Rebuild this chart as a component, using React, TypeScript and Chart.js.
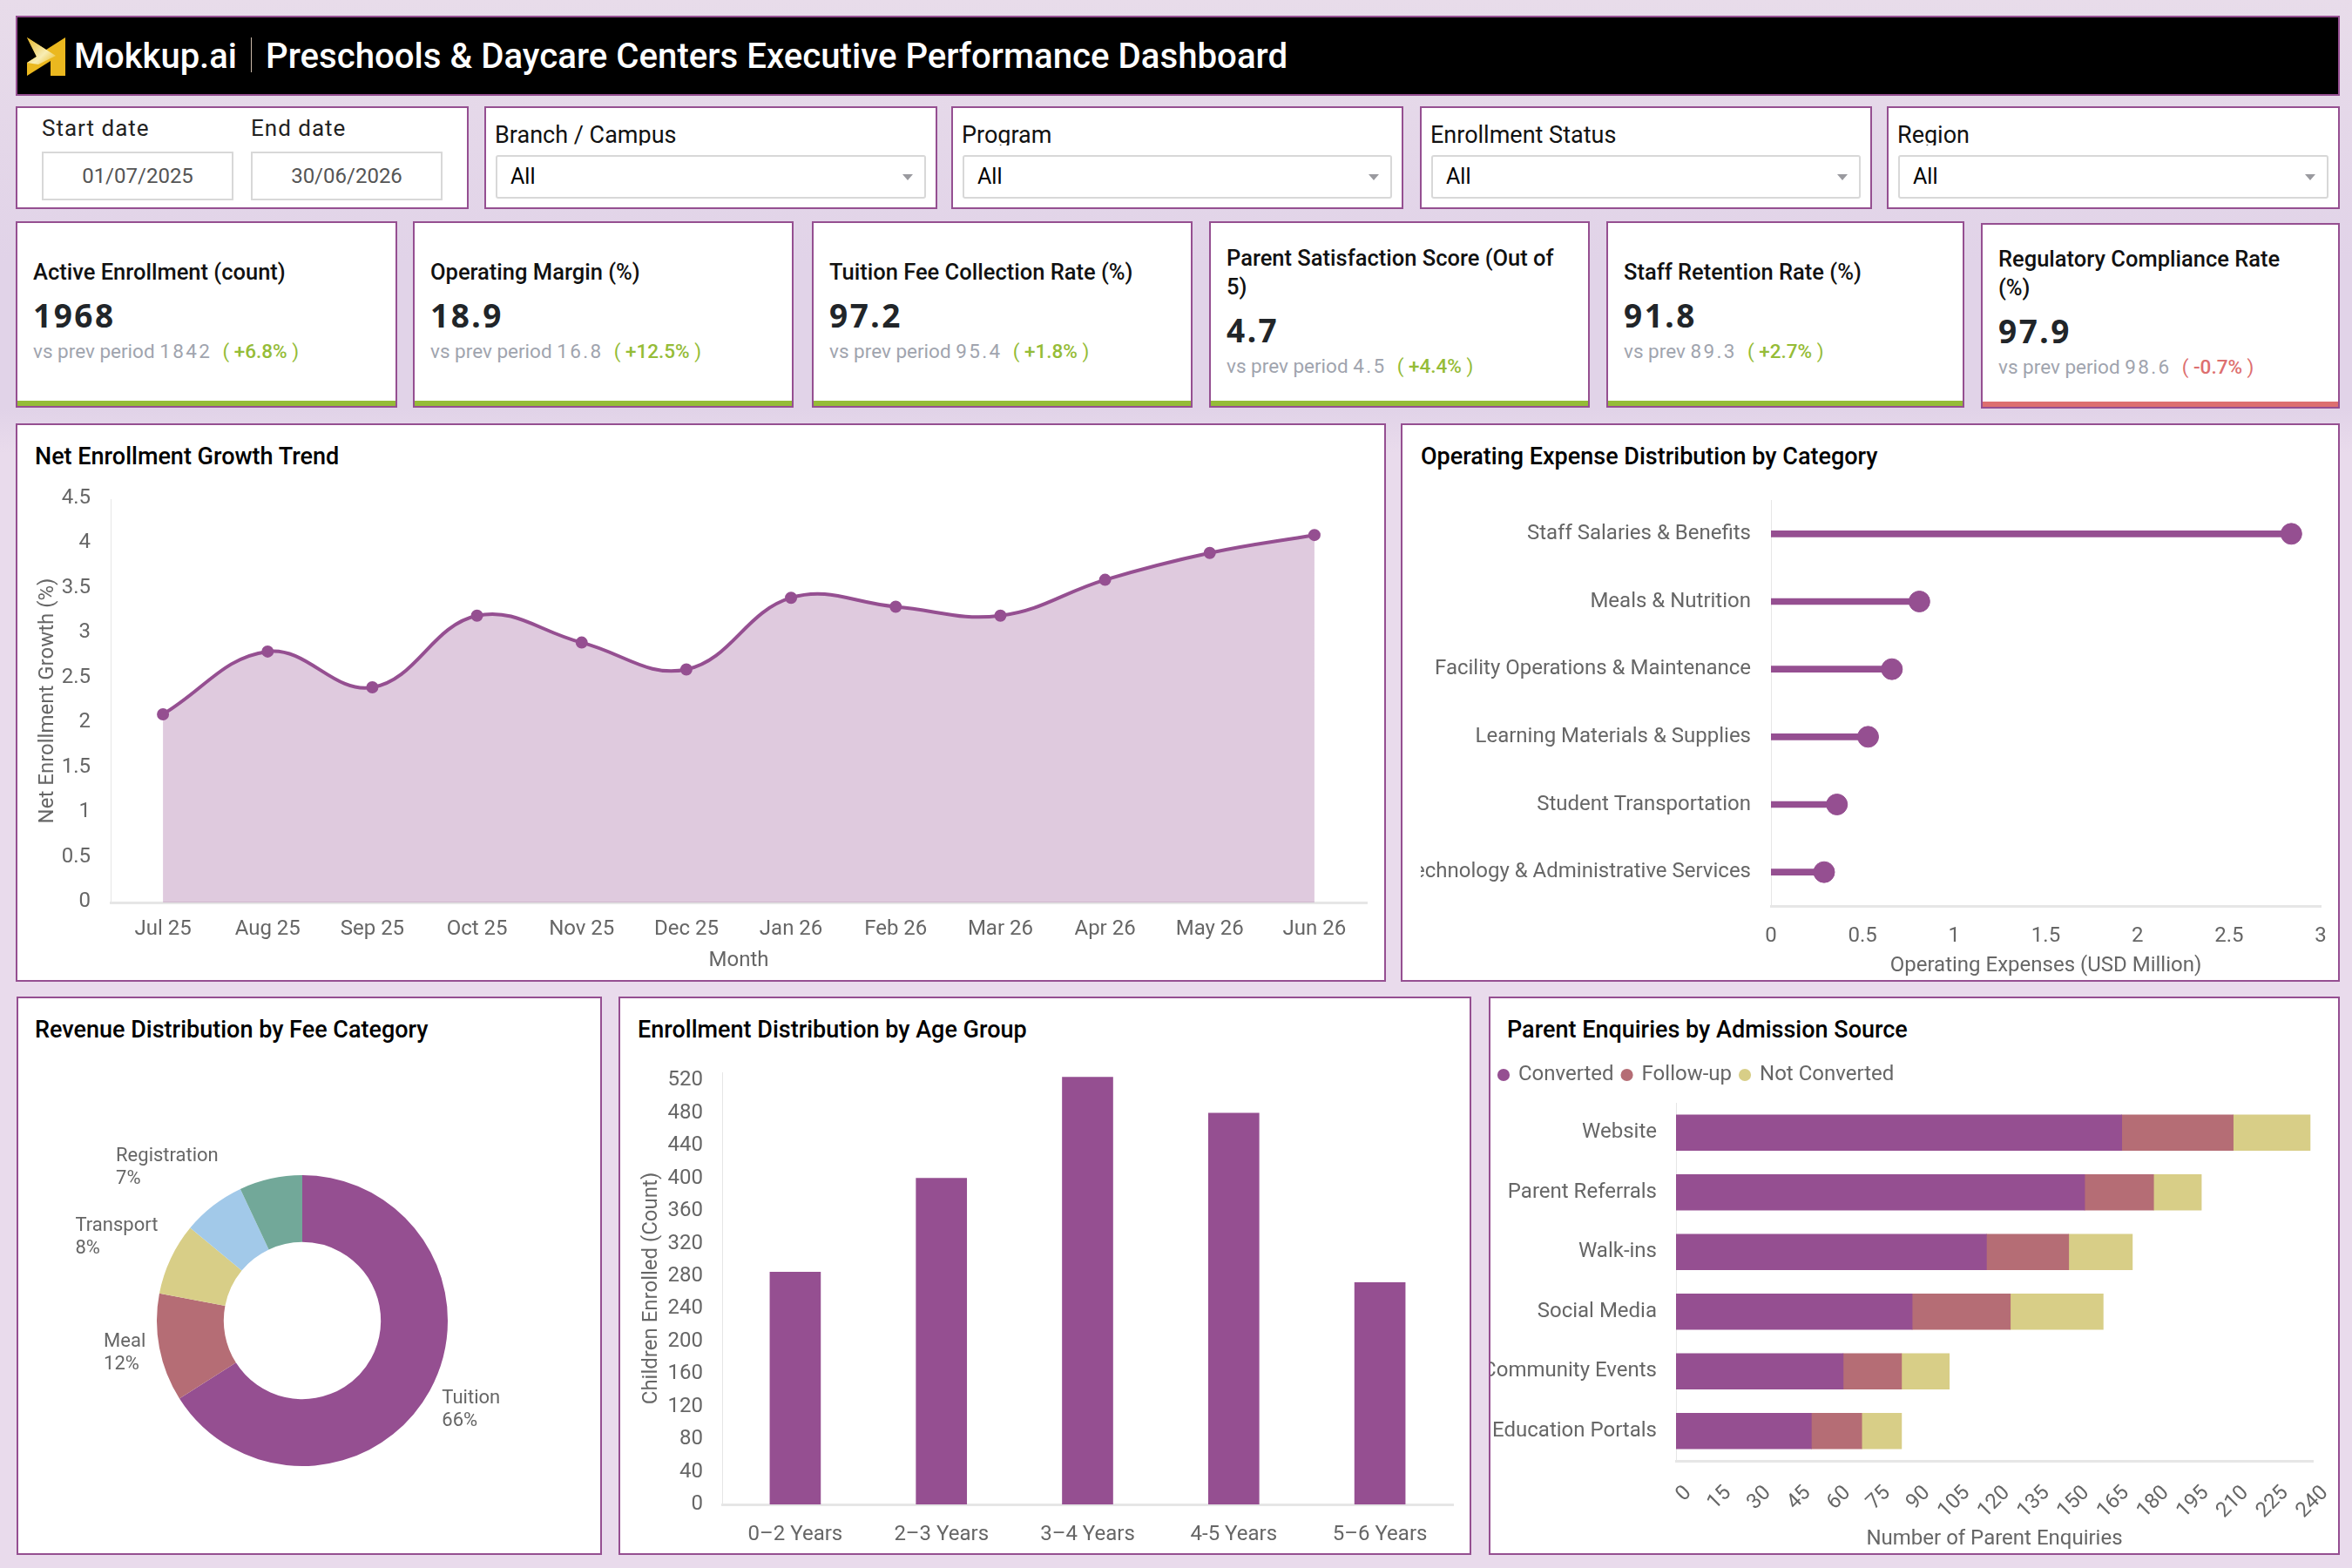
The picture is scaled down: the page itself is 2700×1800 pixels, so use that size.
import { useEffect, useRef } from "react";
import { Chart, registerables } from "chart.js";

Chart.register(...registerables);
Chart.defaults.font.family = "Roboto";

const PURPLE = "#954F91";
const ROSE = "#B56D75";
const SAND = "#D8CE87";
const SKY = "#A2C9E9";
const TEAL = "#72A899";
const GREEN = "#95BC37";
const RED = "#DD6F6F";
const TICK = "#666666";
const AXIS = "#E6E6E6";

// net enrollment growth
const months = ["Jul 25", "Aug 25", "Sep 25", "Oct 25", "Nov 25", "Dec 25", "Jan 26", "Feb 26", "Mar 26", "Apr 26", "May 26", "Jun 26"];
const growth = [2.1, 2.8, 2.4, 3.2, 2.9, 2.6, 3.4, 3.3, 3.2, 3.6, 3.9, 4.1];

// operating expenses
const expenseCategories = ["Staff Salaries & Benefits", "Meals & Nutrition", "Facility Operations & Maintenance", "Learning Materials & Supplies", "Student Transportation", "Technology & Administrative Services"];
const expenses = [2.84, 0.81, 0.66, 0.53, 0.36, 0.29];

// revenue donut, the last slice has no label in the picture
const feeCategories = ["Tuition", "Meal", "Transport", "Registration", ""];
const feeShares = [66, 12, 8, 7, 7];
const feeColors = [PURPLE, ROSE, SAND, SKY, TEAL];

// age groups
const ageGroups = ["0–2 Years", "2–3 Years", "3–4 Years", "4-5 Years", "5–6 Years"];
const ageCounts = [285, 400, 524, 480, 272];

// admission sources
const sources = ["Website", "Parent Referrals", "Walk-ins", "Social Media", "Community Events", "Education Portals"];
const converted = [168, 154, 117, 89, 63, 51];
const followUp = [42, 26, 31, 37, 22, 19];
const notConverted = [29, 18, 24, 35, 18, 15];

// kpi cards
const kpiTitles = ["Active Enrollment (count)", "Operating Margin (%)", "Tuition Fee Collection Rate (%)", "Parent Satisfaction Score (Out of 5)", "Staff Retention Rate (%)", "Regulatory Compliance Rate (%)"];
const kpiValues = ["1968", "18.9", "97.2", "4.7", "91.8", "97.9"];
const kpiPrevLabels = ["vs prev period", "vs prev period", "vs prev period", "vs prev period", "vs prev", "vs prev period"];
const kpiPrevValues = ["1842", "16.8", "95.4", "4.5", "89.3", "98.6"];
const kpiDeltas = ["+6.8%", "+12.5%", "+1.8%", "+4.4%", "+2.7%", "-0.7%"];
const kpiBoxes = [
  [18, 254, 438, 214],
  [474, 254, 437, 214],
  [932, 254, 437, 214],
  [1388, 254, 437, 214],
  [1844, 254, 411, 214],
  [2274, 256, 412, 213],
];

const filterLabels = ["Branch / Campus", "Program", "Enrollment Status", "Region"];
const filterBoxes = [
  [556, 520],
  [1092, 519],
  [1630, 519],
  [2166, 520],
];

type Rect = { left: number; top: number; right: number; bottom: number };

// pins the plot area to a fixed spot inside the canvas
function fitAxes(canvas: Rect, plot: Rect, topFromLegend = false) {
  return {
    padding: { top: topFromLegend ? 0 : plot.top - canvas.top, right: canvas.right - plot.right, left: 0, bottom: 0 },
    yFit: (s: any) => { s.width = plot.left - canvas.left; },
    xFit: (s: any) => { s.height = canvas.bottom - plot.bottom; },
  };
}

const tickFont = { size: 24 };
const noGrid = { display: false, drawTicks: false };
const axisTitle = (text: string, padding: any) => ({ display: true, text, color: TICK, font: { size: 24 }, padding });
const quiet = { legend: { display: false }, tooltip: { enabled: false } };

function ChartBox({ rect, config }: { rect: Rect; config: () => any }) {
  const ref = useRef<HTMLCanvasElement | null>(null);
  useEffect(() => {
    if (!ref.current) return;
    const chart = new Chart(ref.current, config());
    return () => chart.destroy();
  }, []);
  return (
    <canvas
      ref={ref}
      width={rect.right - rect.left}
      height={rect.bottom - rect.top}
      style={{ position: "absolute", left: rect.left, top: rect.top, width: rect.right - rect.left, height: rect.bottom - rect.top, display: "block" }}
    />
  );
}

const lineRect = { left: 39, top: 525, right: 1588, bottom: 1125 };
const linePlot = { left: 127, top: 573, right: 1569, bottom: 1036 };
function lineConfig() {
  const fit = fitAxes(lineRect, linePlot);
  return {
    type: "line",
    data: {
      labels: months,
      datasets: [{
        data: growth,
        borderColor: PURPLE,
        borderWidth: 4,
        backgroundColor: "rgba(149,79,145,0.3)",
        fill: "origin",
        tension: 0.4,
        pointRadius: 5,
        pointBackgroundColor: PURPLE,
        pointBorderColor: PURPLE,
      }],
    },
    options: {
      responsive: false,
      animation: false,
      layout: { padding: fit.padding },
      plugins: quiet,
      scales: {
        x: {
          offset: true,
          afterFit: fit.xFit,
          grid: noGrid,
          border: { color: AXIS, width: 3 },
          ticks: { color: TICK, font: tickFont, padding: 17, maxRotation: 0, autoSkip: false },
          title: axisTitle("Month", { top: 0, bottom: 8 }),
        },
        y: {
          min: 0,
          max: 4.5,
          afterFit: fit.yFit,
          grid: noGrid,
          border: { color: AXIS, width: 1 },
          ticks: { color: TICK, font: tickFont, padding: 23, stepSize: 0.5, labelOffset: -1, callback: (v: number) => String(v) },
          title: axisTitle("Net Enrollment Growth (%)", { top: 2, bottom: 0 }),
        },
      },
    },
  };
}

const expenseRect = { left: 1631, top: 525, right: 2700, bottom: 1125 };
const expensePlot = { left: 2033, top: 574, right: 2664, bottom: 1040 };
function expenseConfig() {
  const fit = fitAxes(expenseRect, expensePlot);
  return {
    type: "bar",
    data: {
      labels: expenseCategories,
      datasets: [
        { type: "line", data: expenses, showLine: false, pointRadius: 12, pointBackgroundColor: PURPLE, pointBorderColor: PURPLE },
        { type: "bar", data: expenses, backgroundColor: PURPLE, barThickness: 7 },
      ],
    },
    options: {
      indexAxis: "y",
      responsive: false,
      animation: false,
      layout: { padding: fit.padding },
      plugins: quiet,
      scales: {
        x: {
          min: 0,
          max: 3,
          afterFit: fit.xFit,
          grid: noGrid,
          border: { color: AXIS, width: 3 },
          ticks: { color: TICK, font: tickFont, padding: 21, stepSize: 0.5, maxRotation: 0, callback: (v: number) => String(v) },
          title: axisTitle("Operating Expenses (USD Million)", { top: 0, bottom: 2 }),
        },
        y: {
          afterFit: fit.yFit,
          grid: noGrid,
          border: { color: AXIS, width: 1 },
          ticks: { color: TICK, font: tickFont, padding: 23, autoSkip: false },
        },
      },
    },
  };
}

// donut labels sit just outside the ring, two lines each
const feeLabelPlugin = {
  id: "feeLabels",
  afterDatasetsDraw(chart: any) {
    const { ctx } = chart;
    const arcs = chart.getDatasetMeta(0).data;
    ctx.save();
    ctx.font = "22px Roboto";
    ctx.fillStyle = TICK;
    ctx.textBaseline = "middle";
    ctx.textAlign = "left";
    arcs.forEach((arc: any, i: number) => {
      if (!feeCategories[i]) return;
      const share = `${feeShares[i]}%`;
      const mid = (arc.startAngle + arc.endAngle) / 2;
      const x = arc.x + Math.cos(mid) * (feeCategories[i] === "Registration" ? 157 : 183);
      const y = arc.y + Math.sin(mid) * 218 - 3;
      const w = Math.max(ctx.measureText(feeCategories[i]).width, ctx.measureText(share).width);
      const left = Math.cos(mid) < 0 ? x - w : x;
      ctx.fillText(feeCategories[i], left, y - 13);
      ctx.fillText(share, left, y + 13);
    });
    ctx.restore();
  },
};

const donutRect = { left: 23, top: 1250, right: 671, bottom: 1782 };
function donutConfig() {
  return {
    type: "doughnut",
    data: { labels: feeCategories, datasets: [{ data: feeShares, backgroundColor: feeColors, borderWidth: 0 }] },
    options: { responsive: false, animation: false, radius: 167, cutout: "54%", plugins: quiet },
    plugins: [feeLabelPlugin],
  };
}

const ageRect = { left: 732, top: 1180, right: 1686, bottom: 1782 };
const agePlot = { left: 829, top: 1231, right: 1668, bottom: 1727 };
function ageConfig() {
  const fit = fitAxes(ageRect, agePlot);
  return {
    type: "bar",
    data: { labels: ageGroups, datasets: [{ data: ageCounts, backgroundColor: PURPLE, barThickness: 58 }] },
    options: {
      responsive: false,
      animation: false,
      layout: { padding: fit.padding },
      plugins: quiet,
      scales: {
        x: {
          afterFit: fit.xFit,
          grid: noGrid,
          border: { color: AXIS, width: 3 },
          ticks: { color: TICK, font: tickFont, padding: 21, maxRotation: 0, autoSkip: false },
        },
        y: {
          min: 0,
          max: 530,
          afterFit: fit.yFit,
          grid: noGrid,
          border: { color: AXIS, width: 1 },
          ticks: { color: TICK, font: tickFont, padding: 22, stepSize: 40, includeBounds: false, autoSkip: false },
          title: axisTitle("Children Enrolled (Count)", { top: 2, bottom: 0 }),
        },
      },
    },
  };
}

// leaves a bit more room under the legend
const legendGapPlugin = {
  id: "legendGap",
  beforeInit(chart: any) {
    const fit = chart.legend.fit;
    chart.legend.fit = function () {
      fit.call(this);
      this.height += 10;
    };
  },
};

const sourceRect = { left: 1711, top: 1212, right: 2700, bottom: 1783 };
const sourcePlot = { left: 1924, top: 1265, right: 2655, bottom: 1677 };
function sourceConfig() {
  const fit = fitAxes(sourceRect, sourcePlot, true);
  return {
    type: "bar",
    data: {
      labels: sources,
      datasets: [
        { label: "Converted", data: converted, backgroundColor: PURPLE, barThickness: 41 },
        { label: "Follow-up", data: followUp, backgroundColor: ROSE, barThickness: 41 },
        { label: "Not Converted", data: notConverted, backgroundColor: SAND, barThickness: 41 },
      ],
    },
    options: {
      indexAxis: "y",
      responsive: false,
      animation: false,
      layout: { padding: fit.padding },
      plugins: {
        tooltip: { enabled: false },
        legend: {
          position: "top",
          align: "start",
          labels: { usePointStyle: true, pointStyle: "circle", boxWidth: 10, boxHeight: 10, padding: 10, color: TICK, font: { size: 24 } },
        },
      },
      scales: {
        x: {
          stacked: true,
          min: 0,
          max: 240,
          afterFit: fit.xFit,
          grid: noGrid,
          border: { color: AXIS, width: 3 },
          ticks: { color: TICK, font: tickFont, padding: 23, stepSize: 15, minRotation: 45, maxRotation: 45, labelOffset: 14, autoSkip: false },
          title: axisTitle("Number of Parent Enquiries", { top: 0, bottom: 2 }),
        },
        y: {
          stacked: true,
          afterFit: fit.yFit,
          grid: noGrid,
          border: { color: AXIS, width: 1 },
          ticks: { color: TICK, font: tickFont, padding: 22, autoSkip: false },
        },
      },
    },
    plugins: [legendGapPlugin],
  };
}

const box = (left: number, top: number, width: number, height: number): any => ({
  position: "absolute",
  left,
  top,
  width,
  height,
  boxSizing: "border-box",
  background: "#fff",
  border: `2px solid ${PURPLE}`,
});

function PanelTitle({ x, y, text }: { x: number; y: number; text: string }) {
  return <div style={{ position: "absolute", left: x, top: y, fontSize: 27, lineHeight: "34px", fontWeight: 500, color: "#000", whiteSpace: "nowrap" }}>{text}</div>;
}

function DateField({ x, label, value }: { x: number; label: string; value: string }) {
  return (
    <>
      <div style={{ position: "absolute", left: x, top: 130, fontSize: 26, lineHeight: "34px", letterSpacing: 1, color: "#222" }}>{label}</div>
      <div style={{ position: "absolute", left: x, top: 174, width: 220, height: 56, boxSizing: "border-box", border: "2px solid #D8D8D8", textAlign: "center", fontSize: 24, lineHeight: "52px", color: "#555" }}>{value}</div>
    </>
  );
}

function FilterBox({ x, w, label }: { x: number; w: number; label: string }) {
  return (
    <div style={box(x, 122, w, 118)}>
      <div style={{ position: "absolute", left: 10, top: 14, height: 29, overflow: "hidden", fontSize: 27, lineHeight: "34px", color: "#111", whiteSpace: "nowrap" }}>{label}</div>
      <div style={{ position: "absolute", left: 11, top: 54, width: w - 26, height: 50, boxSizing: "border-box", border: "2px solid #D8D8D8", borderRadius: 3, paddingLeft: 15, fontSize: 25, lineHeight: "46px", color: "#000" }}>
        All
        <div style={{ position: "absolute", right: 13, top: 20, width: 0, height: 0, borderLeft: "6px solid transparent", borderRight: "6px solid transparent", borderTop: "7px solid #9A9A9F" }} />
      </div>
    </div>
  );
}

function KpiCard({ i }: { i: number }) {
  const [x, y, w, h] = kpiBoxes[i];
  const bad = kpiDeltas[i].startsWith("-");
  const tone = bad ? RED : GREEN;
  return (
    <div style={box(x, y, w, h)}>
      <div style={{ position: "absolute", left: 18, right: 30, top: 0, bottom: 8, display: "flex", flexDirection: "column", justifyContent: "center" }}>
        <div style={{ fontSize: 25.5, lineHeight: "33px", fontWeight: 500, color: "#111" }}>{kpiTitles[i]}</div>
        <div style={{ marginTop: 11, fontFamily: "'Noto Sans'", fontSize: 37, lineHeight: "44px", fontWeight: 700, letterSpacing: 2.5, color: "#212529" }}>{kpiValues[i]}</div>
        <div style={{ marginTop: 4, fontSize: 22.5, lineHeight: "30px", color: "#A0A4AE", whiteSpace: "nowrap" }}>
          {kpiPrevLabels[i]} <span style={{ letterSpacing: 2.4 }}>{kpiPrevValues[i]}</span>
          <span style={{ color: tone, marginLeft: 12 }}>( <span style={{ fontWeight: 500 }}>{kpiDeltas[i]}</span> )</span>
        </div>
      </div>
      <div style={{ position: "absolute", left: 0, right: 0, bottom: 0, height: 6, background: tone }} />
    </div>
  );
}

export default function App() {
  return (
    <div style={{ position: "absolute", left: 0, top: 0, width: 2700, height: 1800, overflow: "hidden", fontFamily: "Roboto", background: "linear-gradient(180deg, #E8DCEA 0, #E1D3E8 300px, #E1D3E8 470px, #E9DBEC 520px, #E9DBEC 100%)" }}>
      <div style={{ ...box(18, 18, 2668, 92), background: "#000" }}>
        <svg width="46" height="46" viewBox="0 0 46 46" style={{ position: "absolute", left: 10, top: 22 }}>
          <defs>
            <linearGradient id="gleam" x1="0" y1="0" x2="1" y2="1">
              <stop offset="0" stopColor="#E3B52A" />
              <stop offset="0.6" stopColor="#F8EDB4" />
              <stop offset="1" stopColor="#E9BC25" />
            </linearGradient>
          </defs>
          <path d="M1 1 L23 15 L45 1 L45 45 L28 45 L28 28 L1 45 L1 30 L12 23 Z" fill="#EBB81F" />
          <path d="M1 1 L34 22 L14 32 L1 30 L12 23 Z" fill="url(#gleam)" />
        </svg>
        <div style={{ position: "absolute", left: 65, top: 20, fontSize: 40, lineHeight: "50px", fontWeight: 500, color: "#fff" }}>Mokkup.ai</div>
        <div style={{ position: "absolute", left: 268, top: 23, width: 1, height: 40, background: "#C9B8A8" }} />
        <div style={{ position: "absolute", left: 285, top: 20, fontSize: 40.2, lineHeight: "50px", fontWeight: 500, color: "#fff", whiteSpace: "nowrap" }}>Preschools &amp; Daycare Centers Executive Performance Dashboard</div>
      </div>

      <div style={box(18, 122, 520, 118)} />
      <DateField x={48} label="Start date" value="01/07/2025" />
      <DateField x={288} label="End date" value="30/06/2026" />
      {filterLabels.map((label, i) => <FilterBox key={label} x={filterBoxes[i][0]} w={filterBoxes[i][1]} label={label} />)}

      {kpiTitles.map((t, i) => <KpiCard key={t} i={i} />)}

      <div style={box(18, 486, 1573, 641)} />
      <PanelTitle x={40} y={507} text="Net Enrollment Growth Trend" />
      <ChartBox rect={lineRect} config={lineConfig} />

      <div style={box(1608, 486, 1078, 641)} />
      <PanelTitle x={1631} y={507} text="Operating Expense Distribution by Category" />
      <ChartBox rect={expenseRect} config={expenseConfig} />

      <div style={box(19, 1144, 672, 641)} />
      <PanelTitle x={40} y={1165} text="Revenue Distribution by Fee Category" />
      <ChartBox rect={donutRect} config={donutConfig} />

      <div style={box(710, 1144, 979, 641)} />
      <PanelTitle x={732} y={1165} text="Enrollment Distribution by Age Group" />
      <ChartBox rect={ageRect} config={ageConfig} />

      <div style={box(1709, 1144, 977, 641)} />
      <PanelTitle x={1730} y={1165} text="Parent Enquiries by Admission Source" />
      <ChartBox rect={sourceRect} config={sourceConfig} />
    </div>
  );
}
